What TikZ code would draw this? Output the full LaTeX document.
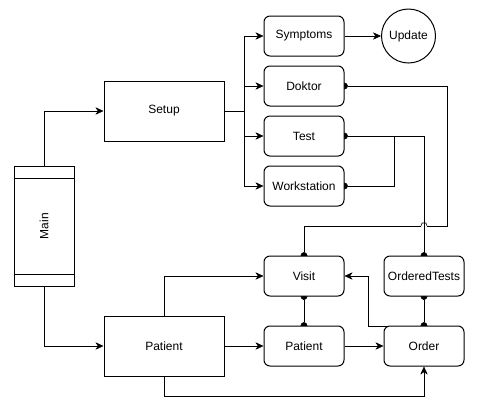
\documentclass[tikz,border=0pt]{standalone}
\usepackage{fontspec}
\setmainfont{Liberation Sans}
\usetikzlibrary{arrows.meta,backgrounds}

\tikzset{every picture/.style={line width=0.75pt}}
\tikzset{
  box/.style={draw, fill=white, minimum width=90pt, minimum height=45pt, inner sep=0pt, font=\fontsize{9}{11}\selectfont},
  rbox/.style={draw, fill=white, rounded corners=4.5pt, minimum width=60pt, minimum height=30pt, inner sep=0pt, font=\fontsize{9}{11}\selectfont},
  arr/.style={-{Stealth[length=6pt,width=5.5pt,inset=1.8pt]}},
  dots/.style={{Circle[length=5pt]}-{Circle[length=5pt]}, shorten <=-2.5pt, shorten >=-2.5pt},
  dotstart/.style={{Circle[length=5pt]}-, shorten <=-2.5pt},
  dotend/.style={-{Circle[length=5pt]}, shorten >=-2.5pt}
}

\begin{document}
\begin{tikzpicture}[x=0.75pt,y=0.75pt,yscale=-1,xscale=1]
\useasboundingbox (0,0) rectangle (483,412);

%Shape: Process (Main)
\node [draw, fill=white, minimum width=45pt, minimum height=90pt, inner sep=0pt] (main) at (44,226) {};
\draw (14,178) -- (74,178) ;
\draw (14,274) -- (74,274) ;
% Text Node
\node [rotate=90, font=\fontsize{9}{11}\selectfont] (maintxt) at (44,226) {Main};

%Shape: Rectangle
\node [box] (setup) at (164,111) {Setup};
\node [box] (patient) at (164,346) {Patient};

%Shape: Rounded Rectangle
\node [rbox] (symptoms) at (304,36) {Symptoms};
\node [rbox] (doktor) at (304,86) {Doktor};
\node [rbox] (test) at (304,136) {Test};
\node [rbox] (workstation) at (304,186) {Workstation};
\node [rbox] (visit) at (304,276) {Visit};
\node [rbox] (orderedtests) at (424,276) {OrderedTests};
\node [rbox] (patientsm) at (304,346) {Patient};
\node [rbox] (order) at (424,346) {Order};

%Shape: Circle
\node [draw, fill=white, circle, minimum size=40.5pt, inner sep=0pt, font=\fontsize{9}{11}\selectfont] (update) at (408.5,36) {Update};

% bend points
\coordinate (branch) at (244,111);
\coordinate (dkcorner) at (447,226);
\coordinate (jumpr) at (427,226);
\coordinate (jumpl) at (421,226);
\coordinate (wsjoin) at (394,136);
\coordinate (pbottom) at (164,396);
\coordinate (ostart) at (388,326);
\coordinate (obend) at (368,326);

\begin{scope}[on background layer]
%Straight Lines
\draw [arr] (main.north) |- (setup.west) ;
\draw [arr] (main.south) |- (patient.west) ;
\draw [arr] (setup.east) -- (branch) |- (symptoms.west) ;
\draw [arr] (branch) |- (doktor.west) ;
\draw [arr] (branch) |- (test.west) ;
\draw [arr] (branch) |- (workstation.west) ;
\draw [arr] (symptoms) -- (update) ;

%Doktor to Visit, with a jump over the Test line
\draw [dotstart] (doktor.east) -| (dkcorner) -- (jumpr) ;
\draw (jumpr) -- ++(-1,-3) -- ++(-4,0) -- (jumpl) ;
\draw [dotend] (jumpl) -| (visit.north) ;
\draw [dots] (test.east) -| (orderedtests.north) ;
\draw [dotstart] (workstation.east) -| (wsjoin) -| (orderedtests.north) ;

\draw [dots] (visit.south) -- (patientsm.north) ;
\draw [dots] (orderedtests.south) -- (order.north) ;

\draw [arr] (patient.north) |- (visit.west) ;
\draw [arr] (patient.east) -- (patientsm.west) ;
\draw [arr] (patient.south) -- (pbottom) -| (order.south) ;
\draw [arr] (patientsm.east) -- (order.west) ;
\draw [arr] (ostart) -- (obend) |- (visit.east) ;
\end{scope}

\end{tikzpicture}
\end{document}
